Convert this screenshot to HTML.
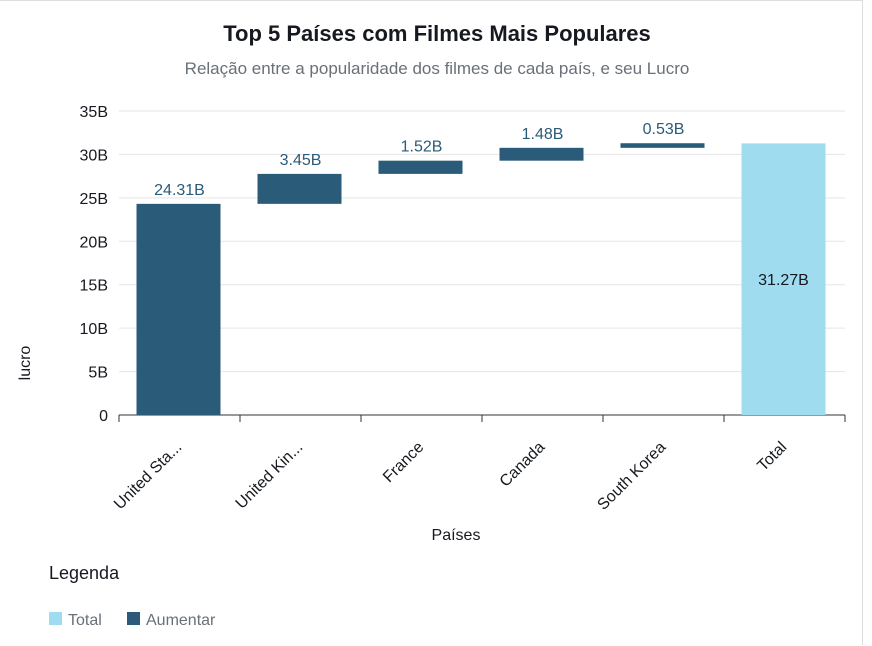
<!DOCTYPE html>
<html><head><meta charset="utf-8"><style>
body{margin:0;width:872px;height:646px;background:#fff;font-family:"Liberation Sans","DejaVu Sans",sans-serif;overflow:hidden;position:relative}
.frame{position:absolute;left:0;top:0;width:862px;height:644px;border-right:1px solid #ddd;border-top:1px solid #ddd}
</style></head><body>
<div class="frame"></div>
<svg width="872" height="646" style="position:absolute;left:0;top:0">
<text x="437" y="41" text-anchor="middle" font-size="22" font-weight="bold" fill="#16191f">Top 5 Países com Filmes Mais Populares</text>
<text x="437" y="74" text-anchor="middle" font-size="17" fill="#687078">Relação entre a popularidade dos filmes de cada país, e seu Lucro</text>
<g id="grid"></g><g id="bars"></g><g id="xaxis"></g>
<text transform="translate(30,363) rotate(-90)" text-anchor="middle" font-size="16" fill="#16191f">lucro</text>
<text x="456" y="540" text-anchor="middle" font-size="16" fill="#16191f">Países</text>
<text x="49" y="579" font-size="18" fill="#16191f">Legenda</text>
<g><rect x="49" y="612" width="13" height="13" fill="#9fdcf0"/><text x="68" y="625" font-size="16" fill="#687078">Total</text></g>
<g><rect x="127" y="612" width="13" height="13" fill="#2a5b78"/><text x="146" y="625" font-size="16" fill="#687078">Aumentar</text></g>
</svg>
<script>
const categories=["United Sta...","United Kin...","France","Canada","South Korea","Total"];
const increments=[24.31,3.45,1.52,1.48,0.53];
const totalValue=31.27;
const yTicks=[0,5,10,15,20,25,30,35];
const NS="http://www.w3.org/2000/svg";
const x0=119,x1=845,yBase=415,yTop=111,yMax=35;
const y=v=>yBase-(v/yMax)*(yBase-yTop);
const bw=(x1-x0)/categories.length;
const cx=i=>x0+bw*(i+0.5);
function mk(t,a,p,txt){const e=document.createElementNS(NS,t);for(const k in a)e.setAttribute(k,a[k]);if(txt!==undefined)e.textContent=txt;p.appendChild(e);return e;}
const grid=document.getElementById('grid'),bars=document.getElementById('bars'),xa=document.getElementById('xaxis');
yTicks.forEach(t=>{
 const l=mk('line',{x1:x0,x2:x1,y1:y(t),y2:y(t),stroke:t===0?'#333':'#e5e5e5','stroke-width':1},grid);
 
 
 const tx=mk('text',{x:x0-11,y:y(t)+6,'text-anchor':'end','font-size':16,fill:'#16191f'},grid,t===0?'0':t+'B');
 
 
});
let cum=0;const w=84;
increments.forEach((v,i)=>{
 const r=mk('rect',{x:cx(i)-w/2-1,y:y(cum+v),width:w,height:Math.max(y(cum)-y(cum+v),1),fill:'#2a5b78'},bars);
 
 
 const t=mk('text',{x:cx(i),y:y(cum+v)-9,'text-anchor':'middle','font-size':16,fill:'#2a5b78'},bars,v.toFixed(2)+'B');
 
 
 cum+=v;
});
const ti=categories.length-1;
const tr=mk('rect',{x:cx(ti)-w/2-1,y:y(totalValue),width:w,height:y(0)-y(totalValue),fill:'#9fdcf0'},bars);


const tt=mk('text',{x:cx(ti)-1,y:(y(totalValue)+y(0))/2+6,'text-anchor':'middle','font-size':16,fill:'#16191f'},bars,totalValue.toFixed(2)+'B');


for(let i=0;i<=categories.length;i++){
 const l=mk('line',{x1:x0+bw*i,x2:x0+bw*i,y1:yBase,y2:yBase+7,stroke:'#333'},xa);
 
 
}
categories.forEach((c,i)=>{
 const t=mk('text',{transform:`translate(${cx(i)+3},${yBase+33}) rotate(-45)`,'text-anchor':'end','font-size':16,fill:'#16191f'},xa,c);
 
 
});
</script>
</body></html>
